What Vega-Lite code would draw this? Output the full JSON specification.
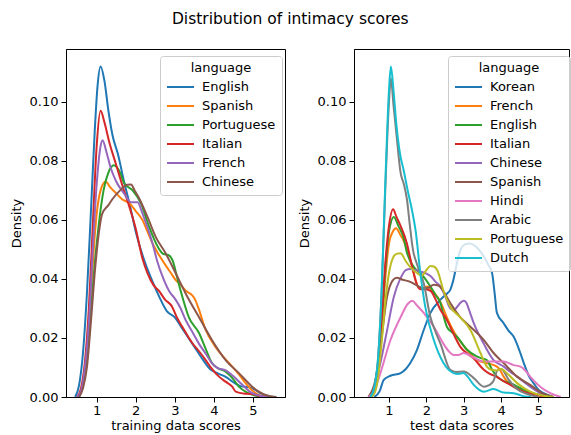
{
"$schema": "https://vega.github.io/schema/vega-lite/v6.json",
"padding": {"left": 9, "top": 12, "right": 1, "bottom": 0},
"spacing": 11,
"title": {"text": "Distribution of intimacy scores", "fontSize": 15.5, "fontWeight": "normal", "font": "DejaVu Sans", "anchor": "middle", "offset": 21, "color": "black"},
"config": {
  "font": "DejaVu Sans",
  "view": {"stroke": "black", "strokeWidth": 1},
  "axis": {"grid": false, "domainColor": "black", "tickColor": "black", "labelColor": "black", "titleColor": "black", "labelFontSize": 13, "titleFontSize": 13, "titleFontWeight": "normal", "tickSize": 5, "labelPadding": 3},
  "axisX": {"titlePadding": 2, "labelPadding": 2},
  "axisY": {"titlePadding": 6},
  "legend": {"orient": "none", "legendX": 94, "legendY": 7, "padding": 6, "fillColor": "rgba(255,255,255,0.8)", "strokeColor": "#cccccc", "cornerRadius": 3, "symbolType": "M-1,0H2", "symbolSize": 324, "symbolStrokeWidth": 2, "labelFontSize": 13, "titleFontSize": 13, "titleFontWeight": "normal", "titleAnchor": "middle", "labelOffset": 16, "rowPadding": 2, "titlePadding": 2, "labelColor": "black", "titleColor": "black"}
},
"datasets": {
"train": [
{"language":"English","score":0.45,"density":0},{"language":"English","score":0.55,"density":0.004},{"language":"English","score":0.65,"density":0.015},{"language":"English","score":0.75,"density":0.035},{"language":"English","score":0.85,"density":0.062},{"language":"English","score":0.95,"density":0.09},{"language":"English","score":1.02,"density":0.105},{"language":"English","score":1.1,"density":0.112},{"language":"English","score":1.2,"density":0.107},{"language":"English","score":1.3,"density":0.097},{"language":"English","score":1.4,"density":0.089},{"language":"English","score":1.55,"density":0.082},{"language":"English","score":1.7,"density":0.073},{"language":"English","score":1.85,"density":0.065},{"language":"English","score":2.0,"density":0.056},{"language":"English","score":2.2,"density":0.047},{"language":"English","score":2.4,"density":0.04},{"language":"English","score":2.6,"density":0.034},{"language":"English","score":2.8,"density":0.029},{"language":"English","score":3.0,"density":0.027},{"language":"English","score":3.15,"density":0.024},{"language":"English","score":3.3,"density":0.021},{"language":"English","score":3.5,"density":0.017},{"language":"English","score":3.7,"density":0.013},{"language":"English","score":3.9,"density":0.0095},{"language":"English","score":4.1,"density":0.008},{"language":"English","score":4.3,"density":0.0068},{"language":"English","score":4.5,"density":0.005},{"language":"English","score":4.7,"density":0.0036},{"language":"English","score":4.9,"density":0.0033},{"language":"English","score":5.05,"density":0.0025},{"language":"English","score":5.2,"density":0.0012},{"language":"English","score":5.4,"density":0.0003},{"language":"English","score":5.6,"density":0},
{"language":"Spanish","score":0.5,"density":0},{"language":"Spanish","score":0.6,"density":0.002},{"language":"Spanish","score":0.7,"density":0.008},{"language":"Spanish","score":0.8,"density":0.022},{"language":"Spanish","score":0.9,"density":0.045},{"language":"Spanish","score":1.0,"density":0.062},{"language":"Spanish","score":1.1,"density":0.07},{"language":"Spanish","score":1.23,"density":0.073},{"language":"Spanish","score":1.35,"density":0.071},{"language":"Spanish","score":1.5,"density":0.069},{"language":"Spanish","score":1.65,"density":0.067},{"language":"Spanish","score":1.83,"density":0.0657},{"language":"Spanish","score":2.0,"density":0.063},{"language":"Spanish","score":2.17,"density":0.06},{"language":"Spanish","score":2.3,"density":0.056},{"language":"Spanish","score":2.43,"density":0.052},{"language":"Spanish","score":2.6,"density":0.048},{"language":"Spanish","score":2.77,"density":0.0445},{"language":"Spanish","score":2.9,"density":0.042},{"language":"Spanish","score":3.02,"density":0.0397},{"language":"Spanish","score":3.15,"density":0.038},{"language":"Spanish","score":3.28,"density":0.036},{"language":"Spanish","score":3.44,"density":0.0345},{"language":"Spanish","score":3.52,"density":0.033},{"language":"Spanish","score":3.62,"density":0.0295},{"language":"Spanish","score":3.79,"density":0.0227},{"language":"Spanish","score":4.04,"density":0.017},{"language":"Spanish","score":4.25,"density":0.0135},{"language":"Spanish","score":4.47,"density":0.0103},{"language":"Spanish","score":4.65,"density":0.0075},{"language":"Spanish","score":4.81,"density":0.0047},{"language":"Spanish","score":5.0,"density":0.002},{"language":"Spanish","score":5.15,"density":0.0007},{"language":"Spanish","score":5.35,"density":0},
{"language":"Portuguese","score":0.55,"density":0},{"language":"Portuguese","score":0.65,"density":0.004},{"language":"Portuguese","score":0.75,"density":0.012},{"language":"Portuguese","score":0.85,"density":0.028},{"language":"Portuguese","score":0.95,"density":0.045},{"language":"Portuguese","score":1.05,"density":0.058},{"language":"Portuguese","score":1.15,"density":0.068},{"language":"Portuguese","score":1.3,"density":0.076},{"language":"Portuguese","score":1.44,"density":0.0785},{"language":"Portuguese","score":1.6,"density":0.076},{"language":"Portuguese","score":1.7,"density":0.0725},{"language":"Portuguese","score":1.92,"density":0.07},{"language":"Portuguese","score":2.13,"density":0.0657},{"language":"Portuguese","score":2.34,"density":0.0577},{"language":"Portuguese","score":2.56,"density":0.051},{"language":"Portuguese","score":2.7,"density":0.0485},{"language":"Portuguese","score":2.85,"density":0.048},{"language":"Portuguese","score":2.95,"density":0.046},{"language":"Portuguese","score":3.05,"density":0.041},{"language":"Portuguese","score":3.15,"density":0.036},{"language":"Portuguese","score":3.36,"density":0.027},{"language":"Portuguese","score":3.62,"density":0.0217},{"language":"Portuguese","score":3.8,"density":0.016},{"language":"Portuguese","score":3.95,"density":0.0115},{"language":"Portuguese","score":4.1,"density":0.0098},{"language":"Portuguese","score":4.3,"density":0.0086},{"language":"Portuguese","score":4.5,"density":0.006},{"language":"Portuguese","score":4.64,"density":0.0035},{"language":"Portuguese","score":4.85,"density":0.0015},{"language":"Portuguese","score":5.05,"density":0.0005},{"language":"Portuguese","score":5.3,"density":0},
{"language":"Italian","score":0.5,"density":0},{"language":"Italian","score":0.6,"density":0.003},{"language":"Italian","score":0.7,"density":0.012},{"language":"Italian","score":0.8,"density":0.03},{"language":"Italian","score":0.9,"density":0.058},{"language":"Italian","score":1.0,"density":0.085},{"language":"Italian","score":1.1,"density":0.097},{"language":"Italian","score":1.2,"density":0.093},{"language":"Italian","score":1.32,"density":0.0865},{"language":"Italian","score":1.49,"density":0.079},{"language":"Italian","score":1.65,"density":0.072},{"language":"Italian","score":1.8,"density":0.066},{"language":"Italian","score":2.0,"density":0.057},{"language":"Italian","score":2.17,"density":0.047},{"language":"Italian","score":2.3,"density":0.042},{"language":"Italian","score":2.45,"density":0.038},{"language":"Italian","score":2.59,"density":0.036},{"language":"Italian","score":2.75,"density":0.033},{"language":"Italian","score":2.93,"density":0.0306},{"language":"Italian","score":3.05,"density":0.027},{"language":"Italian","score":3.19,"density":0.0238},{"language":"Italian","score":3.45,"density":0.0182},{"language":"Italian","score":3.62,"density":0.0155},{"language":"Italian","score":3.79,"density":0.0125},{"language":"Italian","score":3.95,"density":0.0095},{"language":"Italian","score":4.13,"density":0.0069},{"language":"Italian","score":4.3,"density":0.0052},{"language":"Italian","score":4.47,"density":0.0035},{"language":"Italian","score":4.56,"density":0.0018},{"language":"Italian","score":4.75,"density":0.0012},{"language":"Italian","score":4.97,"density":0.001},{"language":"Italian","score":5.15,"density":0.0004},{"language":"Italian","score":5.35,"density":0},
{"language":"French","score":0.5,"density":0},{"language":"French","score":0.6,"density":0.002},{"language":"French","score":0.7,"density":0.01},{"language":"French","score":0.8,"density":0.025},{"language":"French","score":0.9,"density":0.05},{"language":"French","score":1.0,"density":0.072},{"language":"French","score":1.1,"density":0.085},{"language":"French","score":1.15,"density":0.087},{"language":"French","score":1.25,"density":0.083},{"language":"French","score":1.35,"density":0.078},{"language":"French","score":1.5,"density":0.073},{"language":"French","score":1.7,"density":0.069},{"language":"French","score":1.88,"density":0.066},{"language":"French","score":2.05,"density":0.066},{"language":"French","score":2.15,"density":0.063},{"language":"French","score":2.26,"density":0.059},{"language":"French","score":2.43,"density":0.052},{"language":"French","score":2.55,"density":0.046},{"language":"French","score":2.68,"density":0.041},{"language":"French","score":2.85,"density":0.036},{"language":"French","score":3.02,"density":0.033},{"language":"French","score":3.15,"density":0.03},{"language":"French","score":3.28,"density":0.026},{"language":"French","score":3.45,"density":0.022},{"language":"French","score":3.62,"density":0.018},{"language":"French","score":3.8,"density":0.0145},{"language":"French","score":3.95,"density":0.0115},{"language":"French","score":4.1,"density":0.0098},{"language":"French","score":4.3,"density":0.009},{"language":"French","score":4.5,"density":0.007},{"language":"French","score":4.7,"density":0.0045},{"language":"French","score":4.9,"density":0.002},{"language":"French","score":5.1,"density":0.0007},{"language":"French","score":5.35,"density":0},
{"language":"Chinese","score":0.55,"density":0},{"language":"Chinese","score":0.65,"density":0.003},{"language":"Chinese","score":0.75,"density":0.01},{"language":"Chinese","score":0.85,"density":0.025},{"language":"Chinese","score":0.95,"density":0.042},{"language":"Chinese","score":1.05,"density":0.055},{"language":"Chinese","score":1.14,"density":0.062},{"language":"Chinese","score":1.3,"density":0.065},{"language":"Chinese","score":1.4,"density":0.067},{"language":"Chinese","score":1.6,"density":0.07},{"language":"Chinese","score":1.78,"density":0.0719},{"language":"Chinese","score":1.88,"density":0.072},{"language":"Chinese","score":1.97,"density":0.07},{"language":"Chinese","score":2.08,"density":0.0675},{"language":"Chinese","score":2.3,"density":0.061},{"language":"Chinese","score":2.52,"density":0.054},{"language":"Chinese","score":2.76,"density":0.0488},{"language":"Chinese","score":3.02,"density":0.042},{"language":"Chinese","score":3.28,"density":0.035},{"language":"Chinese","score":3.62,"density":0.027},{"language":"Chinese","score":3.95,"density":0.0193},{"language":"Chinese","score":4.3,"density":0.0125},{"language":"Chinese","score":4.64,"density":0.0081},{"language":"Chinese","score":4.98,"density":0.0035},{"language":"Chinese","score":5.15,"density":0.0018},{"language":"Chinese","score":5.32,"density":0.0007},{"language":"Chinese","score":5.6,"density":0}
],
"test": [
{"language":"Korean","score":0.6,"density":0},{"language":"Korean","score":0.75,"density":0.002},{"language":"Korean","score":0.86,"density":0.0058},{"language":"Korean","score":1.04,"density":0.0072},{"language":"Korean","score":1.31,"density":0.0081},{"language":"Korean","score":1.45,"density":0.0095},{"language":"Korean","score":1.57,"density":0.0115},{"language":"Korean","score":1.75,"density":0.016},{"language":"Korean","score":1.93,"density":0.0227},{"language":"Korean","score":2.11,"density":0.0285},{"language":"Korean","score":2.38,"density":0.033},{"language":"Korean","score":2.55,"density":0.035},{"language":"Korean","score":2.64,"density":0.0363},{"language":"Korean","score":2.73,"density":0.04},{"language":"Korean","score":2.82,"density":0.0454},{"language":"Korean","score":2.92,"density":0.05},{"language":"Korean","score":3.05,"density":0.0518},{"language":"Korean","score":3.15,"density":0.052},{"language":"Korean","score":3.27,"density":0.0515},{"language":"Korean","score":3.4,"density":0.05},{"language":"Korean","score":3.54,"density":0.0476},{"language":"Korean","score":3.65,"density":0.045},{"language":"Korean","score":3.76,"density":0.042},{"language":"Korean","score":3.83,"density":0.035},{"language":"Korean","score":3.89,"density":0.0285},{"language":"Korean","score":4.07,"density":0.025},{"language":"Korean","score":4.2,"density":0.0225},{"language":"Korean","score":4.34,"density":0.0204},{"language":"Korean","score":4.5,"density":0.0155},{"language":"Korean","score":4.61,"density":0.0115},{"language":"Korean","score":4.75,"density":0.007},{"language":"Korean","score":4.87,"density":0.0047},{"language":"Korean","score":5.0,"density":0.0025},{"language":"Korean","score":5.14,"density":0.0013},{"language":"Korean","score":5.4,"density":0},
{"language":"French","score":0.5,"density":0},{"language":"French","score":0.6,"density":0.002},{"language":"French","score":0.7,"density":0.008},{"language":"French","score":0.8,"density":0.022},{"language":"French","score":0.9,"density":0.04},{"language":"French","score":1.0,"density":0.052},{"language":"French","score":1.1,"density":0.056},{"language":"French","score":1.19,"density":0.0572},{"language":"French","score":1.3,"density":0.055},{"language":"French","score":1.39,"density":0.053},{"language":"French","score":1.48,"density":0.05},{"language":"French","score":1.57,"density":0.0464},{"language":"French","score":1.71,"density":0.0397},{"language":"French","score":1.8,"density":0.037},{"language":"French","score":1.9,"density":0.037},{"language":"French","score":2.02,"density":0.0374},{"language":"French","score":2.15,"density":0.036},{"language":"French","score":2.29,"density":0.034},{"language":"French","score":2.42,"density":0.031},{"language":"French","score":2.55,"density":0.027},{"language":"French","score":2.68,"density":0.0235},{"language":"French","score":2.82,"density":0.0204},{"language":"French","score":3.09,"density":0.016},{"language":"French","score":3.36,"density":0.0125},{"language":"French","score":3.62,"density":0.0115},{"language":"French","score":3.89,"density":0.0103},{"language":"French","score":3.98,"density":0.009},{"language":"French","score":4.07,"density":0.0069},{"language":"French","score":4.2,"density":0.0048},{"language":"French","score":4.34,"density":0.0035},{"language":"French","score":4.7,"density":0.0018},{"language":"French","score":5.1,"density":0.0005},{"language":"French","score":5.4,"density":0},
{"language":"English","score":0.5,"density":0},{"language":"English","score":0.6,"density":0.002},{"language":"English","score":0.7,"density":0.008},{"language":"English","score":0.8,"density":0.024},{"language":"English","score":0.9,"density":0.043},{"language":"English","score":1.0,"density":0.056},{"language":"English","score":1.13,"density":0.061},{"language":"English","score":1.25,"density":0.058},{"language":"English","score":1.39,"density":0.054},{"language":"English","score":1.48,"density":0.049},{"language":"English","score":1.57,"density":0.046},{"language":"English","score":1.7,"density":0.0435},{"language":"English","score":1.84,"density":0.042},{"language":"English","score":1.97,"density":0.04},{"language":"English","score":2.11,"density":0.0374},{"language":"English","score":2.25,"density":0.0345},{"language":"English","score":2.38,"density":0.0318},{"language":"English","score":2.47,"density":0.027},{"language":"English","score":2.55,"density":0.0238},{"language":"English","score":2.68,"density":0.022},{"language":"English","score":2.82,"density":0.0204},{"language":"English","score":3.09,"density":0.016},{"language":"English","score":3.36,"density":0.0137},{"language":"English","score":3.5,"density":0.013},{"language":"English","score":3.62,"density":0.0125},{"language":"English","score":3.75,"density":0.0095},{"language":"English","score":3.89,"density":0.0069},{"language":"English","score":4.05,"density":0.0055},{"language":"English","score":4.25,"density":0.0047},{"language":"English","score":4.6,"density":0.0025},{"language":"English","score":5.0,"density":0.0008},{"language":"English","score":5.4,"density":0},
{"language":"Italian","score":0.5,"density":0},{"language":"Italian","score":0.6,"density":0.002},{"language":"Italian","score":0.7,"density":0.008},{"language":"Italian","score":0.8,"density":0.025},{"language":"Italian","score":0.9,"density":0.045},{"language":"Italian","score":1.0,"density":0.058},{"language":"Italian","score":1.11,"density":0.0636},{"language":"Italian","score":1.2,"density":0.061},{"language":"Italian","score":1.31,"density":0.058},{"language":"Italian","score":1.48,"density":0.052},{"language":"Italian","score":1.57,"density":0.047},{"language":"Italian","score":1.66,"density":0.042},{"language":"Italian","score":1.75,"density":0.038},{"language":"Italian","score":1.85,"density":0.0365},{"language":"Italian","score":1.95,"density":0.0365},{"language":"Italian","score":2.11,"density":0.036},{"language":"Italian","score":2.25,"density":0.033},{"language":"Italian","score":2.38,"density":0.0295},{"language":"Italian","score":2.51,"density":0.027},{"language":"Italian","score":2.64,"density":0.0238},{"language":"Italian","score":2.78,"density":0.02},{"language":"Italian","score":2.91,"density":0.017},{"language":"Italian","score":3.09,"density":0.0148},{"language":"Italian","score":3.27,"density":0.013},{"language":"Italian","score":3.54,"density":0.0092},{"language":"Italian","score":3.7,"density":0.0078},{"language":"Italian","score":3.88,"density":0.0069},{"language":"Italian","score":4.05,"density":0.0055},{"language":"Italian","score":4.25,"density":0.0041},{"language":"Italian","score":4.6,"density":0.0018},{"language":"Italian","score":5.0,"density":0.0005},{"language":"Italian","score":5.3,"density":0},
{"language":"Chinese","score":0.45,"density":0},{"language":"Chinese","score":0.6,"density":0.003},{"language":"Chinese","score":0.77,"density":0.0115},{"language":"Chinese","score":0.95,"density":0.0227},{"language":"Chinese","score":1.13,"density":0.034},{"language":"Chinese","score":1.3,"density":0.04},{"language":"Chinese","score":1.45,"density":0.043},{"language":"Chinese","score":1.57,"density":0.0434},{"language":"Chinese","score":1.7,"density":0.043},{"language":"Chinese","score":1.84,"density":0.0425},{"language":"Chinese","score":1.97,"density":0.042},{"language":"Chinese","score":2.11,"density":0.041},{"language":"Chinese","score":2.25,"density":0.039},{"language":"Chinese","score":2.38,"density":0.0374},{"language":"Chinese","score":2.51,"density":0.034},{"language":"Chinese","score":2.64,"density":0.03},{"language":"Chinese","score":2.75,"density":0.0295},{"language":"Chinese","score":2.82,"density":0.0305},{"language":"Chinese","score":2.92,"density":0.032},{"language":"Chinese","score":3.0,"density":0.0326},{"language":"Chinese","score":3.07,"density":0.032},{"language":"Chinese","score":3.13,"density":0.03},{"language":"Chinese","score":3.2,"density":0.0275},{"language":"Chinese","score":3.27,"density":0.025},{"language":"Chinese","score":3.54,"density":0.018},{"language":"Chinese","score":3.8,"density":0.0125},{"language":"Chinese","score":4.07,"density":0.0103},{"language":"Chinese","score":4.25,"density":0.0085},{"language":"Chinese","score":4.43,"density":0.0069},{"language":"Chinese","score":4.78,"density":0.0035},{"language":"Chinese","score":5.1,"density":0.001},{"language":"Chinese","score":5.4,"density":0},
{"language":"Spanish","score":0.45,"density":0},{"language":"Spanish","score":0.64,"density":0.006},{"language":"Spanish","score":0.77,"density":0.017},{"language":"Spanish","score":0.95,"density":0.034},{"language":"Spanish","score":1.1,"density":0.0395},{"language":"Spanish","score":1.21,"density":0.0404},{"language":"Spanish","score":1.35,"density":0.0398},{"language":"Spanish","score":1.57,"density":0.039},{"language":"Spanish","score":1.75,"density":0.0378},{"language":"Spanish","score":1.93,"density":0.0368},{"language":"Spanish","score":2.05,"density":0.037},{"language":"Spanish","score":2.2,"density":0.038},{"language":"Spanish","score":2.32,"density":0.0378},{"language":"Spanish","score":2.45,"density":0.036},{"language":"Spanish","score":2.64,"density":0.0318},{"language":"Spanish","score":2.91,"density":0.027},{"language":"Spanish","score":3.18,"density":0.0238},{"language":"Spanish","score":3.54,"density":0.0193},{"language":"Spanish","score":3.8,"density":0.0149},{"language":"Spanish","score":4.07,"density":0.0115},{"language":"Spanish","score":4.43,"density":0.0069},{"language":"Spanish","score":4.78,"density":0.0041},{"language":"Spanish","score":5.1,"density":0.0013},{"language":"Spanish","score":5.4,"density":0},
{"language":"Hindi","score":0.45,"density":0},{"language":"Hindi","score":0.6,"density":0.002},{"language":"Hindi","score":0.77,"density":0.0081},{"language":"Hindi","score":1.04,"density":0.0193},{"language":"Hindi","score":1.31,"density":0.027},{"language":"Hindi","score":1.5,"density":0.0315},{"language":"Hindi","score":1.62,"density":0.0326},{"language":"Hindi","score":1.75,"density":0.031},{"language":"Hindi","score":1.93,"density":0.0285},{"language":"Hindi","score":2.2,"density":0.0238},{"language":"Hindi","score":2.46,"density":0.018},{"language":"Hindi","score":2.6,"density":0.0155},{"language":"Hindi","score":2.73,"density":0.0142},{"language":"Hindi","score":2.85,"density":0.0142},{"language":"Hindi","score":3.0,"density":0.0149},{"language":"Hindi","score":3.27,"density":0.0133},{"language":"Hindi","score":3.54,"density":0.012},{"language":"Hindi","score":3.8,"density":0.012},{"language":"Hindi","score":4.07,"density":0.012},{"language":"Hindi","score":4.34,"density":0.0108},{"language":"Hindi","score":4.52,"density":0.0103},{"language":"Hindi","score":4.65,"density":0.009},{"language":"Hindi","score":4.78,"density":0.0069},{"language":"Hindi","score":5.05,"density":0.0035},{"language":"Hindi","score":5.32,"density":0.0013},{"language":"Hindi","score":5.6,"density":0},
{"language":"Arabic","score":0.5,"density":0},{"language":"Arabic","score":0.6,"density":0.003},{"language":"Arabic","score":0.7,"density":0.012},{"language":"Arabic","score":0.8,"density":0.035},{"language":"Arabic","score":0.9,"density":0.07},{"language":"Arabic","score":1.0,"density":0.1},{"language":"Arabic","score":1.05,"density":0.108},{"language":"Arabic","score":1.12,"density":0.099},{"language":"Arabic","score":1.2,"density":0.089},{"language":"Arabic","score":1.31,"density":0.076},{"language":"Arabic","score":1.4,"density":0.072},{"language":"Arabic","score":1.48,"density":0.067},{"language":"Arabic","score":1.56,"density":0.058},{"language":"Arabic","score":1.64,"density":0.05},{"language":"Arabic","score":1.75,"density":0.045},{"language":"Arabic","score":1.93,"density":0.0385},{"language":"Arabic","score":2.11,"density":0.027},{"language":"Arabic","score":2.25,"density":0.022},{"language":"Arabic","score":2.38,"density":0.018},{"language":"Arabic","score":2.64,"density":0.0092},{"language":"Arabic","score":2.8,"density":0.0085},{"language":"Arabic","score":3.0,"density":0.0086},{"language":"Arabic","score":3.27,"density":0.0064},{"language":"Arabic","score":3.54,"density":0.0035},{"language":"Arabic","score":3.68,"density":0.004},{"language":"Arabic","score":3.8,"density":0.0055},{"language":"Arabic","score":3.9,"density":0.009},{"language":"Arabic","score":4.0,"density":0.0095},{"language":"Arabic","score":4.2,"density":0.006},{"language":"Arabic","score":4.4,"density":0.003},{"language":"Arabic","score":4.7,"density":0.001},{"language":"Arabic","score":5.0,"density":0},
{"language":"Portuguese","score":0.5,"density":0},{"language":"Portuguese","score":0.6,"density":0.001},{"language":"Portuguese","score":0.7,"density":0.006},{"language":"Portuguese","score":0.8,"density":0.018},{"language":"Portuguese","score":0.9,"density":0.032},{"language":"Portuguese","score":1.0,"density":0.042},{"language":"Portuguese","score":1.1,"density":0.047},{"language":"Portuguese","score":1.2,"density":0.0485},{"language":"Portuguese","score":1.31,"density":0.0487},{"language":"Portuguese","score":1.45,"density":0.046},{"language":"Portuguese","score":1.57,"density":0.044},{"language":"Portuguese","score":1.75,"density":0.042},{"language":"Portuguese","score":1.87,"density":0.041},{"language":"Portuguese","score":2.0,"density":0.043},{"language":"Portuguese","score":2.11,"density":0.0444},{"language":"Portuguese","score":2.2,"density":0.0442},{"language":"Portuguese","score":2.29,"density":0.043},{"language":"Portuguese","score":2.46,"density":0.036},{"language":"Portuguese","score":2.64,"density":0.0306},{"language":"Portuguese","score":2.91,"density":0.027},{"language":"Portuguese","score":3.18,"density":0.0227},{"language":"Portuguese","score":3.45,"density":0.0149},{"language":"Portuguese","score":3.62,"density":0.0103},{"language":"Portuguese","score":3.75,"density":0.0092},{"language":"Portuguese","score":3.89,"density":0.009},{"language":"Portuguese","score":4.0,"density":0.0095},{"language":"Portuguese","score":4.2,"density":0.0075},{"language":"Portuguese","score":4.43,"density":0.0047},{"language":"Portuguese","score":4.78,"density":0.0018},{"language":"Portuguese","score":5.1,"density":0.0005},{"language":"Portuguese","score":5.4,"density":0},
{"language":"Dutch","score":0.5,"density":0},{"language":"Dutch","score":0.6,"density":0.003},{"language":"Dutch","score":0.7,"density":0.012},{"language":"Dutch","score":0.8,"density":0.035},{"language":"Dutch","score":0.9,"density":0.072},{"language":"Dutch","score":1.0,"density":0.104},{"language":"Dutch","score":1.05,"density":0.112},{"language":"Dutch","score":1.12,"density":0.104},{"language":"Dutch","score":1.2,"density":0.092},{"language":"Dutch","score":1.3,"density":0.082},{"language":"Dutch","score":1.39,"density":0.077},{"language":"Dutch","score":1.5,"density":0.07},{"language":"Dutch","score":1.62,"density":0.063},{"language":"Dutch","score":1.71,"density":0.0566},{"language":"Dutch","score":1.84,"density":0.042},{"language":"Dutch","score":1.97,"density":0.0306},{"language":"Dutch","score":2.2,"density":0.0193},{"language":"Dutch","score":2.46,"density":0.0115},{"language":"Dutch","score":2.73,"density":0.0081},{"language":"Dutch","score":2.85,"density":0.0078},{"language":"Dutch","score":3.0,"density":0.0081},{"language":"Dutch","score":3.1,"density":0.007},{"language":"Dutch","score":3.27,"density":0.0041},{"language":"Dutch","score":3.54,"density":0.0018},{"language":"Dutch","score":3.8,"density":0.0027},{"language":"Dutch","score":4.07,"density":0.0015},{"language":"Dutch","score":4.34,"density":0.0013},{"language":"Dutch","score":4.6,"density":0.0003},{"language":"Dutch","score":4.8,"density":0}
]
},
"hconcat": [
{
 "width": 219, "height": 348,
 "data": {"name": "train"},
 "mark": {"type": "line", "interpolate": "monotone", "strokeWidth": 2, "clip": true},
 "encoding": {
  "x": {"field": "score", "type": "quantitative", "scale": {"domain": [0.215, 5.82], "nice": false, "zero": false}, "axis": {"title": "training data scores", "values": [1, 2, 3, 4, 5]}},
  "y": {"field": "density", "type": "quantitative", "scale": {"domain": [0, 0.1179], "nice": false}, "axis": {"title": "Density", "values": [0, 0.02, 0.04, 0.06, 0.08, 0.1], "format": ".2f"}},
  "color": {"field": "language", "type": "nominal", "scale": {"domain": ["English", "Spanish", "Portuguese", "Italian", "French", "Chinese"], "range": ["#1f77b4", "#ff7f0e", "#2ca02c", "#d62728", "#9467bd", "#8c564b"]}, "legend": {"title": "language"}}
 }
},
{
 "width": 215, "height": 348,
 "data": {"name": "test"},
 "mark": {"type": "line", "interpolate": "monotone", "strokeWidth": 2, "clip": true},
 "encoding": {
  "x": {"field": "score", "type": "quantitative", "scale": {"domain": [0.063, 5.82], "nice": false, "zero": false}, "axis": {"title": "test data scores", "values": [1, 2, 3, 4, 5]}},
  "y": {"field": "density", "type": "quantitative", "scale": {"domain": [0, 0.1179], "nice": false}, "axis": {"title": "Density", "values": [0, 0.02, 0.04, 0.06, 0.08, 0.1], "format": ".2f"}},
  "color": {"field": "language", "type": "nominal", "scale": {"domain": ["Korean", "French", "English", "Italian", "Chinese", "Spanish", "Hindi", "Arabic", "Portuguese", "Dutch"], "range": ["#1f77b4", "#ff7f0e", "#2ca02c", "#d62728", "#9467bd", "#8c564b", "#e377c2", "#7f7f7f", "#bcbd22", "#17becf"]}, "legend": {"title": "language"}}
 }
}
],
"resolve": {"scale": {"color": "independent", "x": "independent", "y": "independent"}}
}
